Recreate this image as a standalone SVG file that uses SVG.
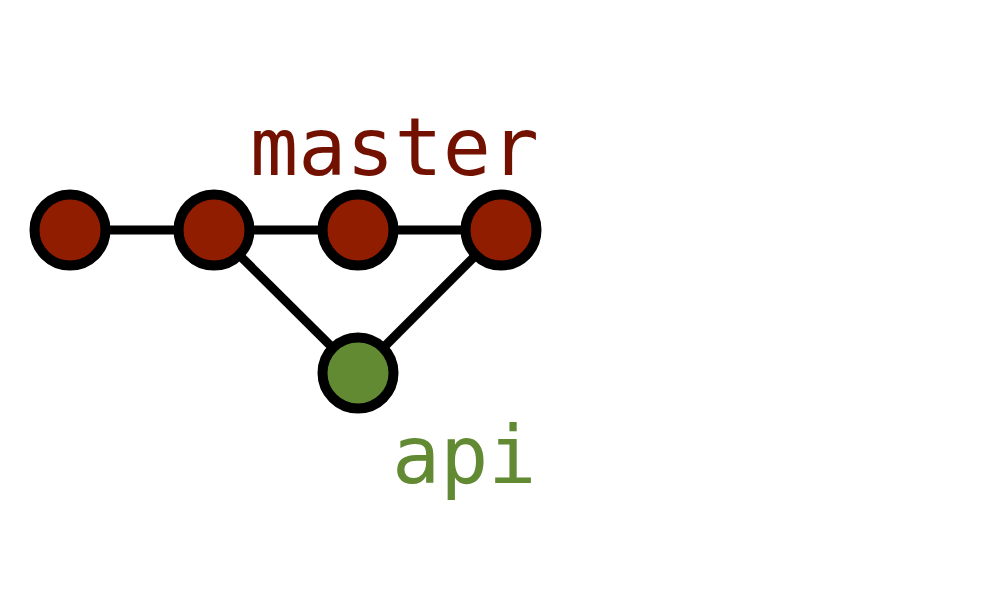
<svg xmlns="http://www.w3.org/2000/svg" width="1000" height="600" viewBox="0 0 1000 600">
<style>
.edge{stroke:#000;stroke-width:9;fill:none}
.node{stroke:#000;stroke-width:10}
.m{fill:#911d00}
.a{fill:#618a32}
.lbl{font-family:"DejaVu Sans Mono",monospace;font-size:80px}
</style>
<rect width="1000" height="600" fill="#fff"/>
<g id="connectors">
<line class="edge" x1="70" y1="230" x2="501" y2="230"/>
<line class="edge" x1="214" y1="230" x2="358" y2="373"/>
<line class="edge" x1="358" y1="373" x2="501" y2="230"/>
</g>
<g id="c1"><circle class="node m" cx="70" cy="230" r="35.5"/></g>
<g id="c2"><circle class="node m" cx="214" cy="230" r="35.5"/></g>
<g id="c3"><circle class="node m" cx="358" cy="230" r="35.5"/></g>
<g id="c4"><circle class="node m" cx="501" cy="230" r="35.5"/></g>
<g id="c5"><circle class="node a" cx="358" cy="373" r="35.5"/></g>
<g id="label-master"><text class="lbl" x="250" y="175" fill="#721100">master</text></g>
<g id="label-api"><text class="lbl" x="392" y="483" fill="#618a32">api</text></g>
</svg>
